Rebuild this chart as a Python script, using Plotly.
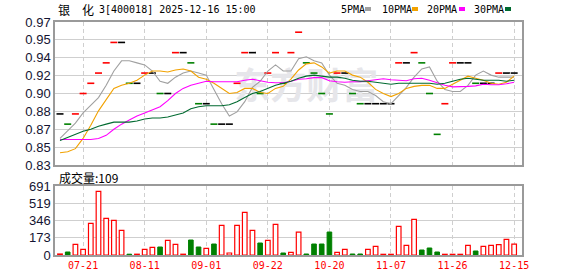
import plotly.graph_objects as go

# ---------------- data ----------------
tick_labels = ["07-21", "08-11", "09-01", "09-22", "10-20", "11-07", "11-26", "12-15"]
tick_bars = [3, 11, 19, 27, 35, 43, 51, 59]

prev_close = 0.88
closes = [0.88, 0.87, 0.88, 0.90, 0.91, 0.92, 0.93, 0.95, 0.95, 0.91,
          0.91, 0.92, 0.92, 0.90, 0.90, 0.94, 0.94, 0.93, 0.89, 0.89,
          0.87, 0.87, 0.87, 0.91, 0.94, 0.94, 0.90, 0.92, 0.94, 0.91,
          0.94, 0.96, 0.93, 0.92, 0.90, 0.88, 0.92, 0.92, 0.90, 0.89,
          0.89, 0.89, 0.89, 0.89, 0.93, 0.93, 0.94, 0.93, 0.90, 0.86,
          0.89, 0.93, 0.93, 0.93, 0.91, 0.91, 0.91, 0.92, 0.92, 0.92]

volumes = [10, 30, 107, 57, 317, 637, 367, 347, 247, 8,
           8, 57, 77, 80, 147, 107, 8, 150, 80, 67,
           110, 297, 20, 297, 427, 247, 120, 147, 307, 20,
           27, 230, 10, 110, 110, 230, 27, 57, 10, 10,
           57, 87, 7, 7, 287, 97, 357, 50, 70, 30,
           7, 7, 7, 97, 40, 87, 97, 103, 157, 109]

ma5 = [0.856, 0.863, 0.871, 0.881, 0.888, 0.896, 0.908, 0.922, 0.932, 0.932,
       0.930, 0.928, 0.922, 0.912, 0.910, 0.916, 0.920, 0.922, 0.920, 0.918,
       0.904, 0.890, 0.878, 0.882, 0.892, 0.906, 0.912, 0.922, 0.928, 0.922,
       0.922, 0.934, 0.936, 0.932, 0.930, 0.918, 0.910, 0.908, 0.904, 0.902,
       0.902, 0.898, 0.892, 0.890, 0.898, 0.906, 0.916, 0.924, 0.926, 0.912,
       0.904, 0.902, 0.902, 0.908, 0.918, 0.922, 0.918, 0.916, 0.916, 0.916]

ma10 = [0.842, 0.843, 0.846, 0.856, 0.869, 0.883, 0.894, 0.905, 0.908, 0.910,
        0.913, 0.918, 0.922, 0.922, 0.921, 0.923, 0.924, 0.922, 0.916, 0.914,
        0.910, 0.905, 0.900, 0.901, 0.905, 0.905, 0.901, 0.900, 0.905, 0.907,
        0.914, 0.923, 0.929, 0.930, 0.926, 0.920, 0.922, 0.922, 0.918, 0.916,
        0.911, 0.904, 0.900, 0.897, 0.900, 0.905, 0.907, 0.908, 0.908, 0.905,
        0.905, 0.909, 0.913, 0.917, 0.915, 0.913, 0.910, 0.909, 0.911, 0.917]

ma20 = [0.855, 0.855, 0.855, 0.855, 0.855, 0.856, 0.859, 0.865, 0.870, 0.874,
        0.878, 0.881, 0.884, 0.887, 0.893, 0.900, 0.905, 0.908, 0.910, 0.912,
        0.9115, 0.9115, 0.911, 0.9115, 0.913, 0.914, 0.9125, 0.911, 0.9105, 0.9105,
        0.912, 0.914, 0.9145, 0.9155, 0.9155, 0.9125, 0.9115, 0.911, 0.9115, 0.9115,
        0.9125, 0.9135, 0.9145, 0.9135, 0.913, 0.9125, 0.9145, 0.915, 0.913, 0.9105,
        0.908, 0.9065, 0.9065, 0.907, 0.9075, 0.909, 0.9085, 0.9085, 0.9095, 0.911]

ma30 = [0.854, 0.857, 0.860, 0.863, 0.865, 0.868, 0.870, 0.872, 0.872, 0.872,
        0.873, 0.875, 0.876, 0.876, 0.877, 0.879, 0.881, 0.885, 0.887, 0.888,
        0.888, 0.888, 0.889, 0.892, 0.896, 0.900, 0.902, 0.905, 0.908, 0.910,
        0.912, 0.915, 0.917, 0.918, 0.917, 0.916, 0.916, 0.915, 0.913, 0.912,
        0.912, 0.911, 0.910, 0.909, 0.910, 0.910, 0.910, 0.910, 0.910, 0.909,
        0.910, 0.912, 0.914, 0.915, 0.914, 0.913, 0.913, 0.913, 0.912, 0.913]

price_ticks = [0.83, 0.8475, 0.865, 0.8825, 0.90, 0.9175, 0.935, 0.9525, 0.97]
price_tick_text = ["0.83", "0.85", "0.87", "0.88", "0.90", "0.92", "0.94", "0.95", "0.97"]
vol_ticks = [0, 172.75, 345.5, 518.25, 691]
vol_tick_text = ["0", "173", "346", "519", "691"]

title_name = "银\u3000化"
title_rest = "3[400018] 2025-12-16 15:00"
vol_label = "成交量:109"
ma_names = ["5PMA", "10PMA", "20PMA", "30PMA"]
watermark = "东方财富"

# ---------------- styling ----------------
W, H = 578, 276
ML, MR, MT, MB = 55, 56, 22, 21
PW, PH = W - ML - MR, H - MT - MB
RED, GREEN, BLACK = "#ff0000", "#008000", "#000000"
MA_COLORS = ["#a0a0a0", "#f2a200", "#ff00ff", "#006a30"]
GRID = "#cfcfcf"
BORDER = "#9a9a9a"
MONO = "DejaVu Sans Mono, Noto Sans CJK SC, monospace"
NUM = "Liberation Sans, Arial, sans-serif"


def xp(px):
    return (px - ML) / PW


def yp(py):
    return (H - MB - py) / PH


price_dom = [yp(165), 1.0]
vol_dom = [0.0, yp(186)]

idx = list(range(len(closes)))
prevs = [prev_close] + closes[:-1]
candle_colors = [RED if c > p else (GREEN if c < p else BLACK) for c, p in zip(closes, prevs)]
is_up = [c >= p for c, p in zip(closes, prevs)]

fig = go.Figure()

# watermark (under everything)
fig.add_trace(go.Scatter(
    x=[32.0], y=[0.903], mode="text", text=["<b>" + watermark + "</b>"],
    textfont=dict(size=36, color="#e6e6ea", family="Noto Sans CJK SC"),
    xaxis="x", yaxis="y", hoverinfo="skip", cliponaxis=False))

# candles (doji dashes)
fig.add_trace(go.Scatter(
    x=idx, y=closes, mode="markers", xaxis="x", yaxis="y",
    marker=dict(symbol="line-ew", size=5, line=dict(width=1.6, color=candle_colors)),
    hoverinfo="skip"))

# moving averages
for vals, col in zip([ma5, ma10, ma20, ma30], MA_COLORS):
    fig.add_trace(go.Scatter(
        x=idx, y=vals, mode="lines", xaxis="x", yaxis="y",
        line=dict(color=col, width=1.1), hoverinfo="skip"))

# volume bars
up_x = [i for i, u in zip(idx, is_up) if u]
up_v = [v for v, u in zip(volumes, is_up) if u]
dn_x = [i for i, u in zip(idx, is_up) if not u]
dn_v = [v for v, u in zip(volumes, is_up) if not u]
fig.add_trace(go.Bar(
    x=up_x, y=up_v, xaxis="x2", yaxis="y2", width=0.6,
    marker=dict(color="white", line=dict(color=RED, width=1.2)), hoverinfo="skip"))
fig.add_trace(go.Bar(
    x=dn_x, y=dn_v, xaxis="x2", yaxis="y2", width=0.6,
    marker=dict(color=GREEN, line=dict(color=GREEN, width=1)), hoverinfo="skip"))

xrange = [-0.65, 60.02]
axis_common = dict(showline=True, mirror=True, linecolor=BORDER, linewidth=1.5,
                   zeroline=False, ticks="", fixedrange=True, automargin=False)

fig.update_layout(
    width=W, height=H,
    margin=dict(l=ML, r=MR, t=MT, b=MB, pad=0, autoexpand=False),
    paper_bgcolor="white", plot_bgcolor="white",
    showlegend=False, hovermode=False, barmode="overlay",
    xaxis=dict(domain=[0, 1], anchor="y", range=xrange, tickvals=tick_bars,
               showticklabels=False, showgrid=True, gridcolor=GRID, gridwidth=1,
               griddash="4px,3px", **axis_common),
    yaxis=dict(domain=price_dom, anchor="x", range=[0.83, 0.97], tickvals=price_ticks,
               ticktext=price_tick_text, showgrid=True, gridcolor=GRID, gridwidth=1,
               tickfont=dict(family=NUM, size=13, color="#141432"), **axis_common),
    xaxis2=dict(domain=[0, 1], anchor="y2", range=xrange, tickvals=tick_bars,
                ticktext=tick_labels, showgrid=True, gridcolor=GRID, gridwidth=1,
                griddash="4px,3px",
                tickfont=dict(family=MONO, size=10, color=RED), **axis_common),
    yaxis2=dict(domain=vol_dom, anchor="x2", range=[0, 691], tickvals=vol_ticks,
                ticktext=vol_tick_text, showgrid=True, gridcolor=GRID, gridwidth=1,
                tickfont=dict(family=NUM, size=13, color="#141432"), **axis_common),
)

ann = []
ann.append(dict(x=xp(56), y=yp(9.5), xref="paper", yref="paper", text=title_name,
                showarrow=False, xanchor="left", yanchor="middle",
                font=dict(family="Noto Sans CJK SC", size=12, color="#000")))
ann.append(dict(x=xp(97), y=yp(9.5), xref="paper", yref="paper", text=title_rest,
                showarrow=False, xanchor="left", yanchor="middle",
                font=dict(family=MONO, size=10, color="#000")))
ann.append(dict(x=xp(57), y=yp(177.5), xref="paper", yref="paper", text=vol_label,
                showarrow=False, xanchor="left", yanchor="middle",
                font=dict(family="Noto Sans CJK SC", size=12, color="#000")))

leg_text_x = [339, 380, 425, 472]
leg_box_x = [365, 412, 459, 505]
shapes = []
for name, tx, bx, col in zip(ma_names, leg_text_x, leg_box_x, MA_COLORS):
    ann.append(dict(x=xp(tx), y=yp(9.5), xref="paper", yref="paper", text=name,
                    showarrow=False, xanchor="left", yanchor="middle",
                    font=dict(family=MONO, size=10, color="#000")))
    shapes.append(dict(type="rect", xref="paper", yref="paper",
                       x0=xp(bx), x1=xp(bx + 6), y0=yp(11), y1=yp(7),
                       fillcolor=col, line=dict(width=0)))

fig.update_layout(annotations=ann, shapes=shapes)

fig.write_html("out.html")
